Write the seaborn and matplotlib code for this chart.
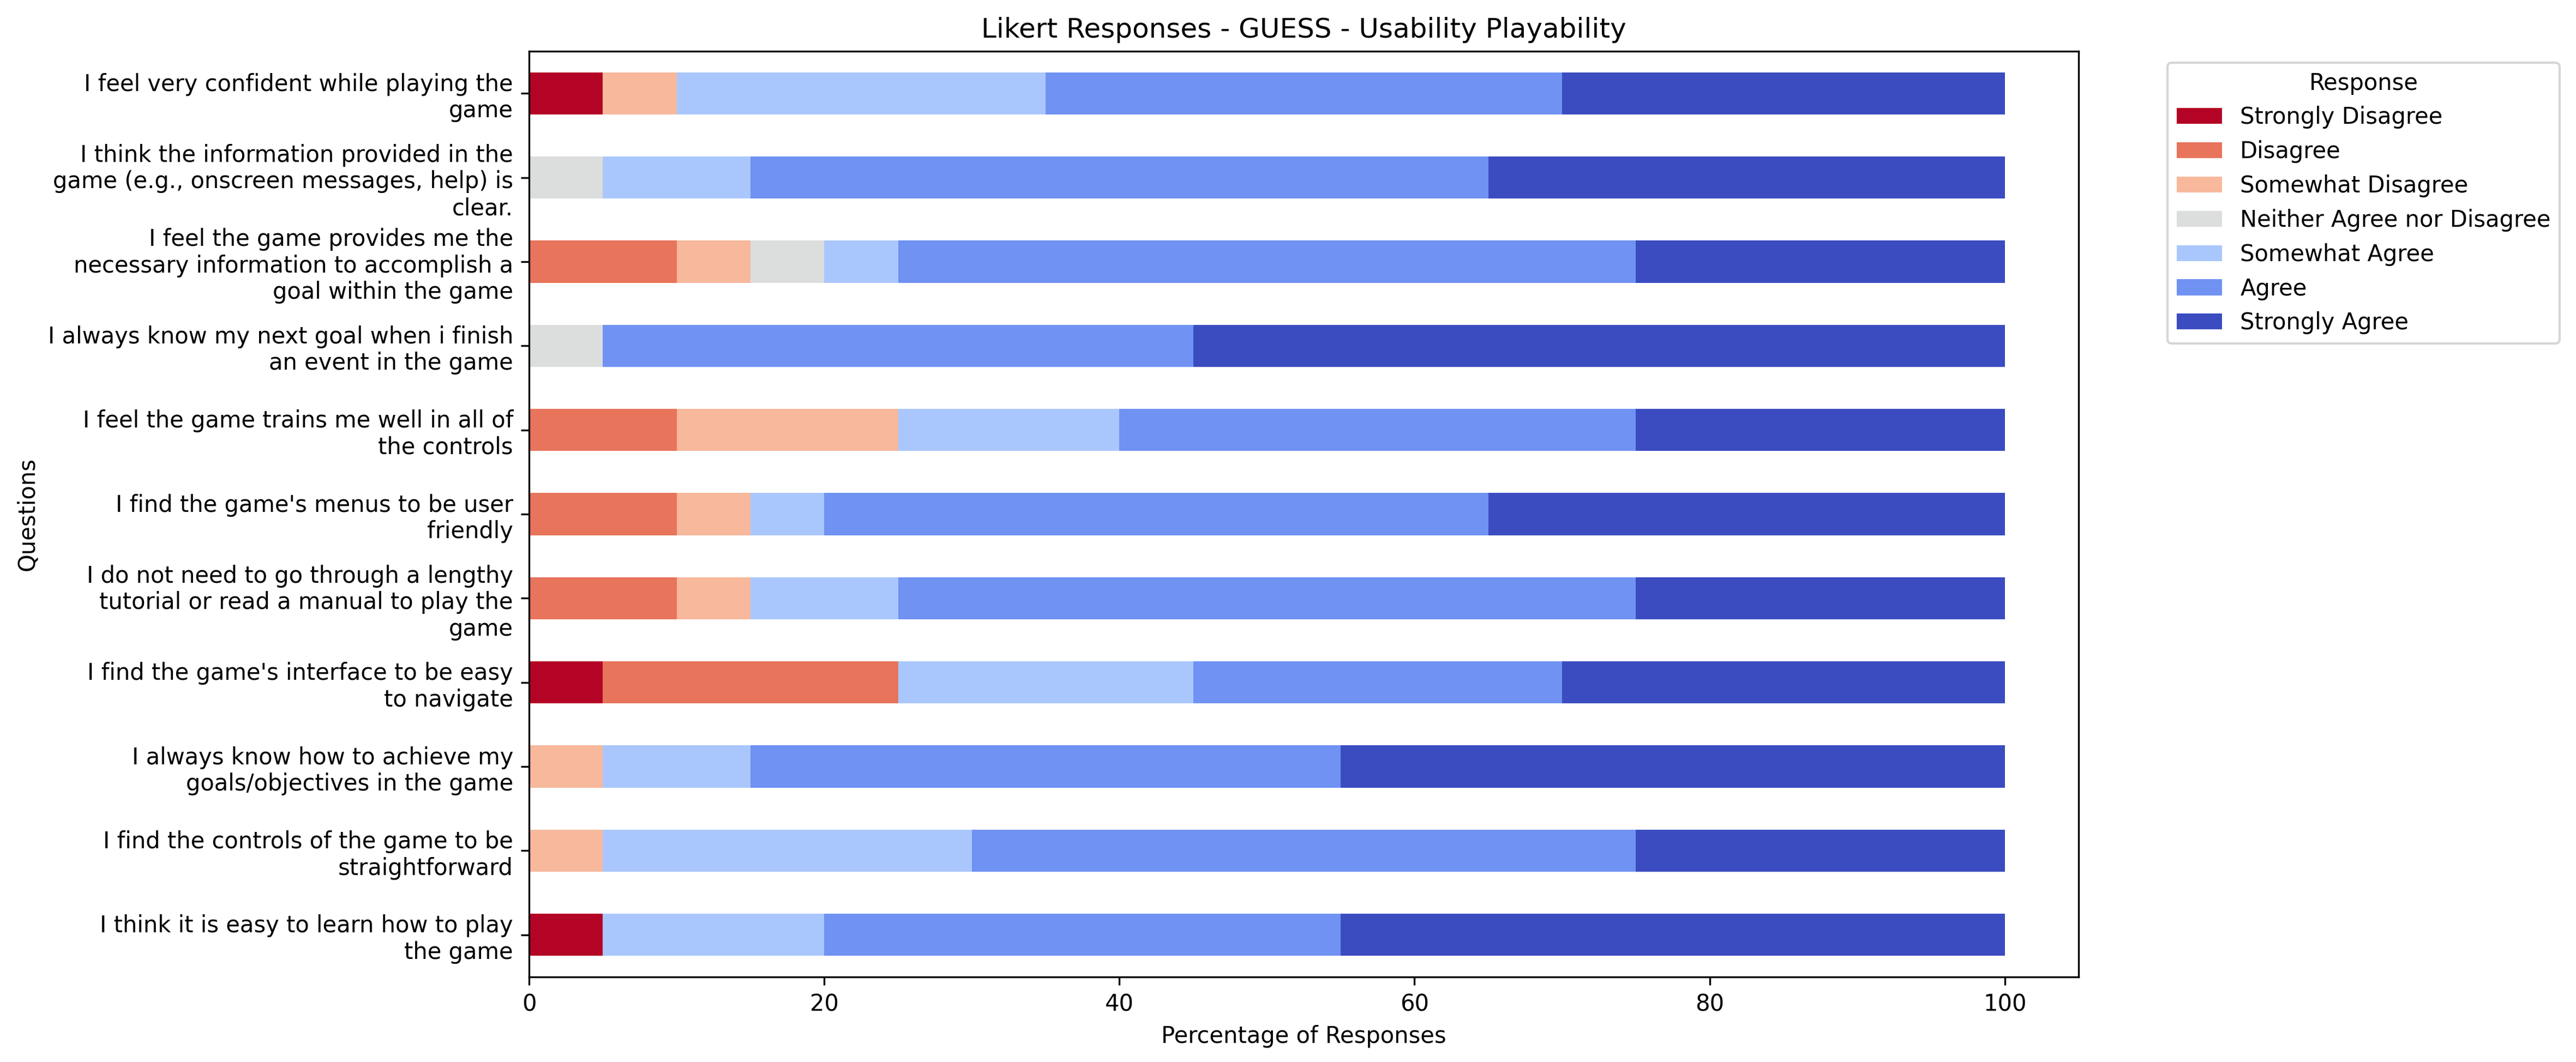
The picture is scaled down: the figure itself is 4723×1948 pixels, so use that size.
import textwrap
import numpy as np
import matplotlib
matplotlib.use("Agg")
import matplotlib.pyplot as plt
from matplotlib.patches import Patch
import seaborn as sns

# ------------------------------
# DATA (percent of responses, top row first)
# ------------------------------
questions = [
    "I feel very confident while playing the game",
    "I think the information provided in the game (e.g., onscreen messages, help) is clear.",
    "I feel the game provides me the necessary information to accomplish a goal within the game",
    "I always know my next goal when i finish an event in the game",
    "I feel the game trains me well in all of the controls",
    "I find the game's menus to be user friendly",
    "I do not need to go through a lengthy tutorial or read a manual to play the game",
    "I find the game's interface to be easy to navigate",
    "I always know how to achieve my goals/objectives in the game",
    "I find the controls of the game to be straightforward",
    "I think it is easy to learn how to play the game",
]

responses = [
    "Strongly Disagree",
    "Disagree",
    "Somewhat Disagree",
    "Neither Agree nor Disagree",
    "Somewhat Agree",
    "Agree",
    "Strongly Agree",
]

strongly_disagree = [5, 0, 0, 0, 0, 0, 0, 5, 0, 0, 5]
disagree = [0, 0, 10, 0, 10, 10, 10, 20, 0, 0, 0]
somewhat_disagree = [5, 0, 5, 0, 15, 5, 5, 0, 5, 5, 0]
neither = [0, 5, 5, 5, 0, 0, 0, 0, 0, 0, 0]
somewhat_agree = [25, 10, 5, 0, 15, 5, 10, 20, 10, 25, 15]
agree = [35, 50, 50, 40, 35, 45, 50, 25, 40, 45, 35]
strongly_agree = [30, 35, 25, 55, 25, 35, 25, 30, 45, 25, 45]

# ------------------------------
# PLOT
# ------------------------------
series = [strongly_disagree, disagree, somewhat_disagree, neither,
          somewhat_agree, agree, strongly_agree]
colors = plt.get_cmap("coolwarm_r")(np.linspace(0, 1, len(responses)))
labels = [textwrap.fill(q, 40) for q in questions]

fig = plt.figure(figsize=(4723 / 300, 1948 / 300), dpi=300)
ax = fig.add_axes([0.2054, 0.0801, 0.6015, 0.8716])

# stacked bars: draw cumulative totals from the right-most segment backwards
cum = np.cumsum(np.array(series, dtype=float), axis=0)
for i in range(len(responses) - 1, -1, -1):
    sns.barplot(x=cum[i], y=labels, order=labels, orient="h",
                color=colors[i], saturation=1, width=0.5,
                linewidth=0, errorbar=None, ax=ax)

ax.set_xlim(0, 105)
ax.set_ylim(len(labels) - 0.5, -0.5)
ax.set_title("Likert Responses - GUESS - Usability Playability")
ax.set_xlabel("Percentage of Responses")
ax.set_ylabel("Questions")

handles = [Patch(facecolor=c, label=r) for c, r in zip(colors, responses)]
ax.legend(handles=handles, title="Response", bbox_to_anchor=(1.05, 1), loc="upper left")

fig.savefig("out.png", dpi=300)
